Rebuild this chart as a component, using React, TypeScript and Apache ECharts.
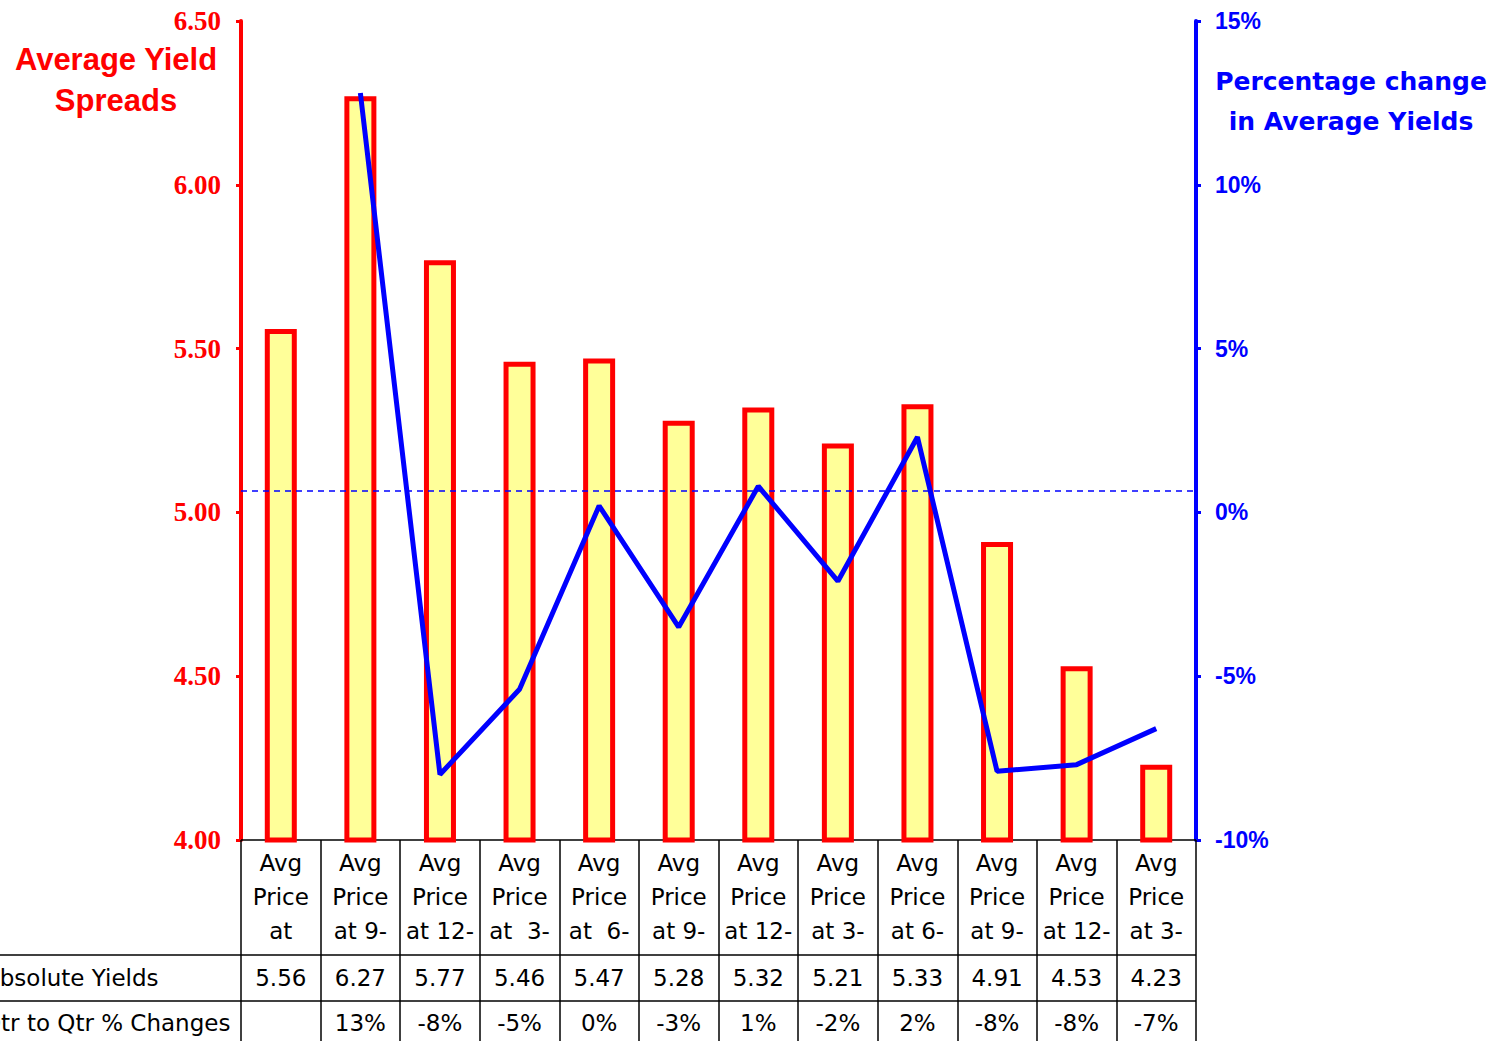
import React, { useEffect, useRef } from "react";
import * as echarts from "echarts";

// Quarter columns of the data table (wrapped, truncated cell text)
const categories = [
  "Avg\nPrice\nat",
  "Avg\nPrice\nat 9-",
  "Avg\nPrice\nat 12-",
  "Avg\nPrice\nat  3-",
  "Avg\nPrice\nat  6-",
  "Avg\nPrice\nat 9-",
  "Avg\nPrice\nat 12-",
  "Avg\nPrice\nat 3-",
  "Avg\nPrice\nat 6-",
  "Avg\nPrice\nat 9-",
  "Avg\nPrice\nat 12-",
  "Avg\nPrice\nat 3-",
];

// Average yield spreads (left axis)
const absoluteYields = [5.56, 6.27, 5.77, 5.46, 5.47, 5.28, 5.32, 5.21, 5.33, 4.91, 4.53, 4.23];

// Quarter-to-quarter percentage change (right axis); first quarter has none
const qtrChanges: (number | null)[] = [null, 12.8, -8.0, -5.4, 0.2, -3.5, 0.8, -2.1, 2.3, -7.9, -7.7, -6.6];

// Dashed reference level on the percentage axis
const dashedLevel = [0.67];

// Axis tick settings
const leftAxisTicks = { min: 4, max: 6.5, interval: 0.5 };
const rightAxisTicks = { min: -10, max: 15, interval: 5 };

const rowLabels = ["Absolute Yields", "Qtr to Qtr % Changes"];

const RED = "#ff0000";
const BLUE = "#0000ff";
const TABLE_FONT = "DejaVu Sans";

export default function App() {
  const ref = useRef<HTMLDivElement>(null);

  useEffect(() => {
    if (!ref.current) return;
    const chart = echarts.init(ref.current, null, { renderer: "svg" });

    const yieldLabels = absoluteYields.map((v) => v.toFixed(2));
    const changeLabels = qtrChanges.map((v) => (v === null ? "" : Math.round(v) + "%"));

    const tableText = {
      color: "#000",
      fontFamily: TABLE_FONT,
      fontSize: 23,
    };

    chart.setOption({
      animation: false,
      backgroundColor: "#ffffff",
      grid: { left: 241, top: 21, width: 955, height: 819, containLabel: false },
      xAxis: [
        {
          type: "category",
          data: categories,
          position: "bottom",
          boundaryGap: true,
          axisLine: { show: true, onZero: false, lineStyle: { color: "#000", width: 1.5 } },
          axisTick: {
            show: true,
            interval: 0,
            length: 202,
            lineStyle: { color: "#000", width: 1.5 },
          },
          axisLabel: {
            interval: 0,
            margin: 6,
            lineHeight: 34,
            ...tableText,
          },
          splitLine: { show: false },
        },
        {
          type: "category",
          data: yieldLabels,
          position: "bottom",
          axisLine: { show: false, onZero: false },
          axisTick: { show: false },
          axisLabel: { interval: 0, margin: 123, lineHeight: 30, ...tableText },
          splitLine: { show: false },
        },
        {
          type: "category",
          data: changeLabels,
          position: "bottom",
          axisLine: { show: false, onZero: false },
          axisTick: { show: false },
          axisLabel: { interval: 0, margin: 168, lineHeight: 30, ...tableText },
          splitLine: { show: false },
        },
      ],
      yAxis: [
        {
          type: "value",
          position: "left",
          ...leftAxisTicks,
          axisLine: { show: true, onZero: false, lineStyle: { color: RED, width: 4 } },
          axisTick: { show: true, length: 5, lineStyle: { color: RED, width: 3 } },
          axisLabel: {
            formatter: (v: number) => v.toFixed(2),
            color: RED,
            fontFamily: "Liberation Serif",
            fontWeight: "bold",
            fontSize: 27,
            margin: 20,
          },
          splitLine: { show: false },
        },
        {
          type: "value",
          position: "right",
          ...rightAxisTicks,
          axisLine: { show: true, onZero: false, lineStyle: { color: BLUE, width: 4 } },
          axisTick: { show: true, length: 5, lineStyle: { color: BLUE, width: 3 } },
          axisLabel: {
            formatter: "{value}%",
            color: BLUE,
            fontFamily: "Liberation Sans",
            fontWeight: "bold",
            fontSize: 23,
            margin: 19,
          },
          splitLine: { show: false },
        },
      ],
      series: [
        {
          name: "Average Yield Spreads",
          type: "bar",
          xAxisIndex: 0,
          yAxisIndex: 0,
          data: absoluteYields,
          barWidth: 32,
          itemStyle: { color: "#ffff99", borderColor: RED, borderWidth: 5 },
          z: 2,
        },
        {
          name: "Percentage change in Average Yields",
          type: "line",
          xAxisIndex: 0,
          yAxisIndex: 1,
          data: qtrChanges,
          showSymbol: false,
          symbol: "none",
          lineStyle: { color: BLUE, width: 5 },
          z: 4,
          markLine: {
            silent: true,
            symbol: "none",
            label: { show: false },
            lineStyle: { color: BLUE, width: 1.5, type: [6, 5] },
            data: dashedLevel.map((v) => ({ yAxis: v })),
          },
        },
      ],
      graphic: [
        {
          type: "text",
          x: 116,
          y: 80,
          style: {
            text: "Average Yield\nSpreads",
            align: "center",
            verticalAlign: "middle",
            fill: RED,
            fontFamily: "Liberation Sans",
            fontWeight: "bold",
            fontSize: 31,
            lineHeight: 41,
          },
        },
        {
          type: "text",
          x: 1351,
          y: 101,
          style: {
            text: "Percentage change\nin Average Yields",
            align: "center",
            verticalAlign: "middle",
            fill: BLUE,
            fontFamily: "DejaVu Sans",
            fontWeight: "bold",
            fontSize: 25,
            lineHeight: 40,
          },
        },
        {
          type: "line",
          shape: { x1: 0, y1: 955, x2: 1196, y2: 955 },
          style: { stroke: "#000", lineWidth: 1.5 },
        },
        {
          type: "line",
          shape: { x1: 0, y1: 1001, x2: 1196, y2: 1001 },
          style: { stroke: "#000", lineWidth: 1.5 },
        },
        {
          type: "text",
          x: -16,
          y: 978,
          style: {
            text: rowLabels[0],
            align: "left",
            verticalAlign: "middle",
            fill: "#000",
            fontFamily: TABLE_FONT,
            fontSize: 23,
          },
        },
        {
          type: "text",
          x: -17,
          y: 1023,
          style: {
            text: rowLabels[1],
            align: "left",
            verticalAlign: "middle",
            fill: "#000",
            fontFamily: TABLE_FONT,
            fontSize: 23,
          },
        },
      ],
    });

    return () => chart.dispose();
  }, []);

  return (
    <div
      ref={ref}
      style={{ position: "absolute", left: 0, top: 0, width: 1505, height: 1041, background: "#fff" }}
    />
  );
}
